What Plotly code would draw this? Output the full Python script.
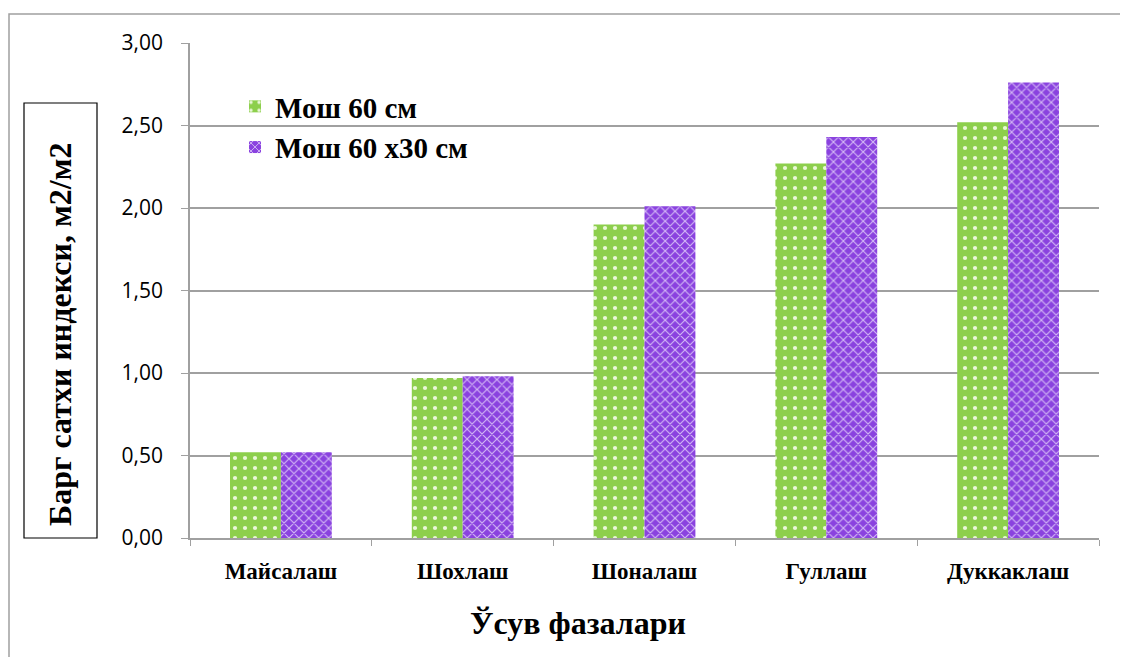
import plotly.graph_objects as go

categories = ["Майсалаш", "Шохлаш", "Шоналаш", "Гуллаш", "Дуккаклаш"]
series_names = ["Мош 60 см", "Мош 60 х30 см"]
mosh_60 = [0.52, 0.97, 1.90, 2.27, 2.52]
mosh_60x30 = [0.52, 0.98, 2.01, 2.43, 2.76]
y_ticks = [0.0, 0.5, 1.0, 1.5, 2.0, 2.5, 3.0]

# page body has an 8px margin; figure is sized so it fills the window
OFF = 8
W, H = 1128 - OFF, 657 - OFF
L, R, T, B = 190 - OFF, 29, 43 - OFF, 119
PW, PH = W - L - R, H - T - B

def px(x):
    return (x - OFF - L) / PW

def py(y):
    return (H - B - (y - OFF)) / PH

fig = go.Figure()
fig.add_trace(go.Bar(
    name=series_names[0], x=categories, y=mosh_60,
    marker=dict(color="#92D050", line=dict(width=0),
                pattern=dict(shape=".", fgcolor="#eaf7d8", bgcolor="#8dcf4c",
                             size=10, solidity=0.14, fillmode="replace")),
))
fig.add_trace(go.Bar(
    name=series_names[1], x=categories, y=mosh_60x30,
    marker=dict(color="#9b55e0", line=dict(width=0),
                pattern=dict(shape="x", fgcolor="#d3b8f5", bgcolor="#8a42df",
                             size=7, solidity=0.3, fillmode="replace")),
))

fig.update_layout(
    width=W, height=H,
    margin=dict(l=L, r=R, t=T, b=B),
    paper_bgcolor="white", plot_bgcolor="white",
    barmode="group", bargap=0.44, bargroupgap=0,
    separators=",.",
    showlegend=True,
    legend=dict(x=px(235), y=py(81), xanchor="left", yanchor="top",
                font=dict(family="Liberation Serif", size=29, color="black", weight="bold"),
                bgcolor="rgba(0,0,0,0)", tracegroupgap=10, itemwidth=30),
    xaxis=dict(
        type="category", showgrid=False, showline=True, linecolor="#a0a0a0", linewidth=1.5,
        ticks="outside", tickson="boundaries", ticklen=6, tickcolor="#a0a0a0",
        tickfont=dict(family="Liberation Serif", size=23, color="black", weight="bold"),
        ticklabelstandoff=12,
    ),
    yaxis=dict(
        range=[0, 3.0], tickvals=y_ticks, tickformat=".2f",
        showgrid=True, gridcolor="#a0a0a0", gridwidth=1.5,
        showline=True, linecolor="#a0a0a0", linewidth=1.5,
        ticks="outside", ticklen=7, tickcolor="#a0a0a0",
        tickfont=dict(family="Open Sans", size=21, color="black"),
        ticklabelstandoff=14,
    ),
    shapes=[
        dict(type="rect", xref="paper", yref="paper",
             x0=px(9), x1=px(1140), y0=py(670), y1=py(14),
             line=dict(color="#a0a0a0", width=1.5), layer="below"),
        dict(type="rect", xref="paper", yref="paper",
             x0=px(24), x1=px(97), y0=py(538), y1=py(103),
             line=dict(color="black", width=1.2), layer="above"),
    ],
    annotations=[
        dict(text="Барг сатхи индекси, м2/м2", xref="paper", yref="paper",
             x=px(40), y=py(335), textangle=-90, showarrow=False,
             font=dict(family="Liberation Serif", size=32, color="black", weight="bold")),
        dict(text="Ўсув фазалари", xref="paper", yref="paper",
             x=px(578), y=py(643), showarrow=False,
             font=dict(family="Liberation Serif", size=32, color="black", weight="bold")),
    ],
)

fig.write_html("out.html")
